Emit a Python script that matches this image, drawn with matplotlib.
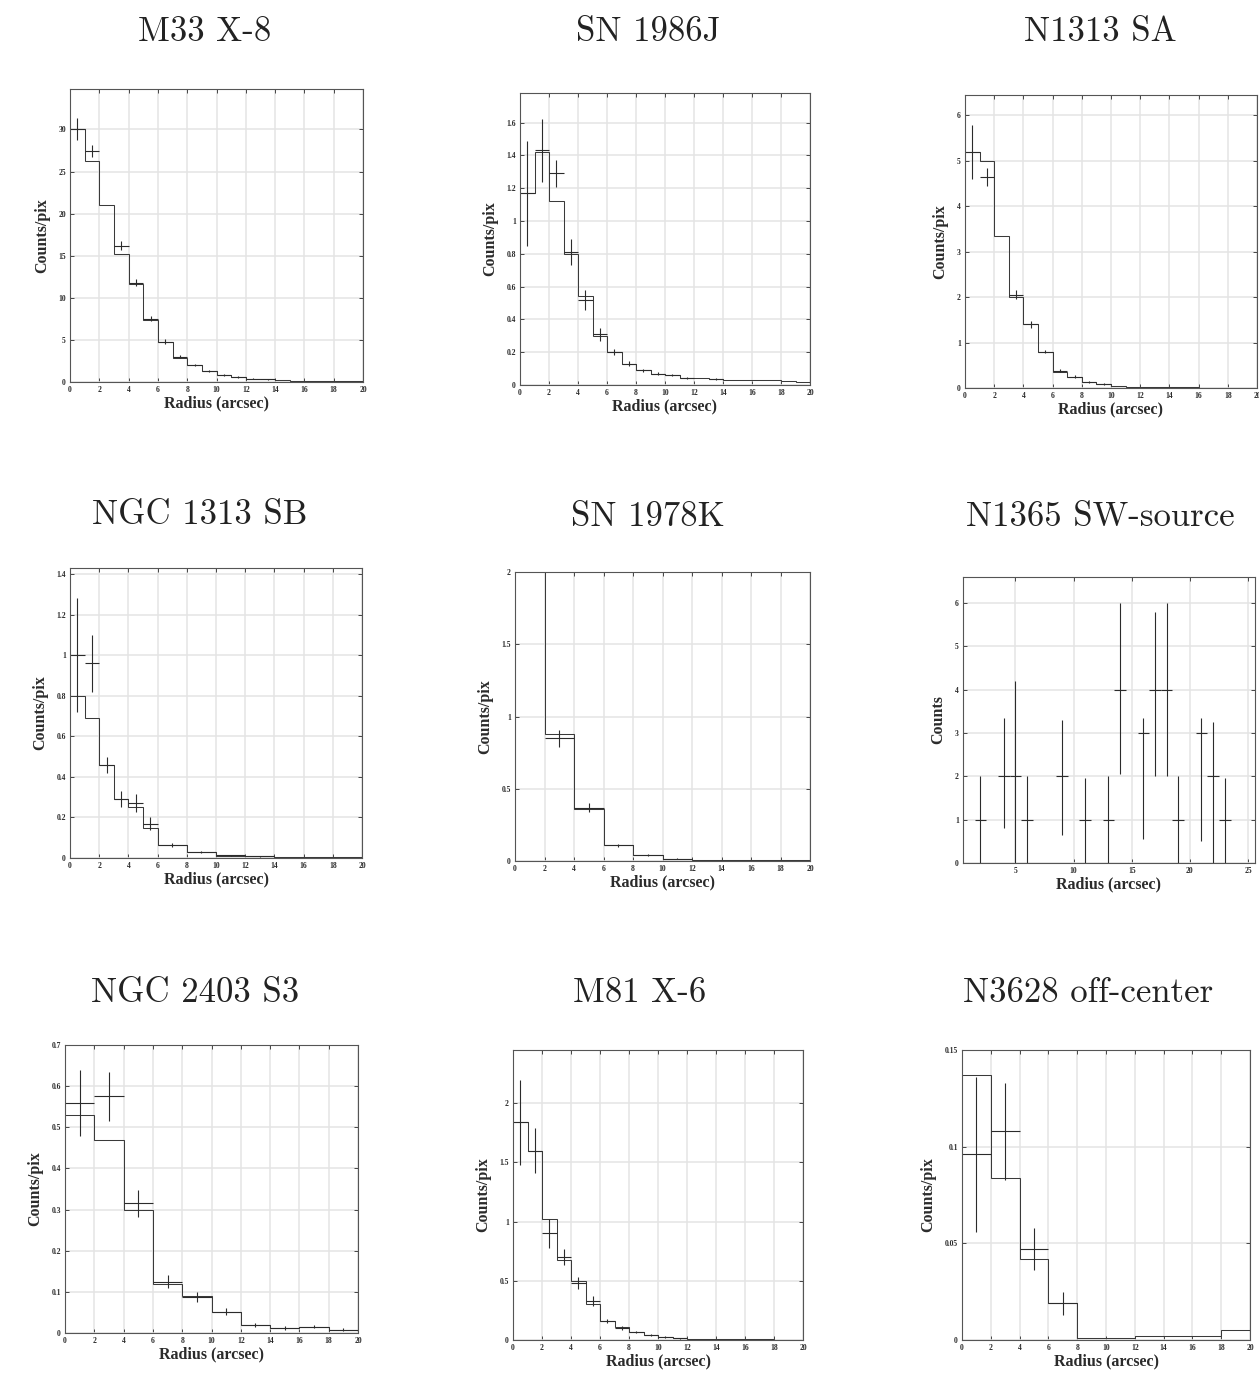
import matplotlib
matplotlib.use("Agg")
import matplotlib.pyplot as plt
import numpy as np
from matplotlib.ticker import MultipleLocator, FormatStrFormatter

W, H = 1259, 1376

# ---- M33 X-8 ----
m33_edges = np.arange(0, 21, 1)
m33_model = [30.0, 26.3, 21.0, 15.2, 11.6, 7.4, 4.7, 2.9, 2.0, 1.3,
             0.8, 0.55, 0.4, 0.3, 0.2, 0.15, 0.12, 0.1, 0.08, 0.06]
m33_r = [0.5, 1.5, 3.5, 4.5, 5.5, 6.5, 7.5, 8.5, 9.5, 10.5, 11.5, 12.5, 13.5]
m33_y = [30.0, 27.4, 16.2, 11.8, 7.5, 4.8, 3.0, 2.0, 1.3, 0.85, 0.6, 0.4, 0.3]
m33_e = [1.3, 0.7, 0.5, 0.4, 0.3, 0.25, 0.2, 0.15, 0.12, 0.1, 0.08, 0.06, 0.05]

# ---- SN 1986J ----
sn86_edges = np.arange(0, 21, 1)
sn86_model = [1.17, 1.42, 1.12, 0.8, 0.54, 0.3, 0.2, 0.13, 0.09, 0.07,
              0.06, 0.045, 0.04, 0.035, 0.03, 0.03, 0.03, 0.03, 0.025, 0.02]
sn86_r = [0.5, 1.5, 2.5, 3.5, 4.5, 5.5, 6.5, 7.5, 8.5, 9.5, 10.5, 11.5, 13.5]
sn86_y = [1.17, 1.43, 1.29, 0.81, 0.52, 0.31, 0.2, 0.13, 0.09, 0.07, 0.06, 0.04, 0.035]
sn86_e = [0.32, 0.19, 0.08, 0.08, 0.06, 0.04, 0.02, 0.015, 0.01, 0.01, 0.008, 0.006, 0.005]

# ---- N1313 SA ----
sa_edges = np.arange(0, 21, 1)
sa_model = [5.2, 5.0, 3.35, 2.0, 1.4, 0.8, 0.35, 0.25, 0.13, 0.08,
            0.04, 0.03, 0.02, 0.02, 0.015, 0.015, 0.01, 0.01, 0.01, 0.01]
sa_r = [0.5, 1.5, 3.5, 4.5, 5.5, 6.5, 7.5, 8.5, 9.5]
sa_y = [5.2, 4.65, 2.05, 1.4, 0.8, 0.38, 0.25, 0.13, 0.09]
sa_e = [0.6, 0.2, 0.1, 0.07, 0.04, 0.03, 0.03, 0.02, 0.015]

# ---- NGC 1313 SB ----
sb_edges = [0, 1, 2, 3, 4, 5, 6, 8, 10, 12, 14, 16, 18, 20]
sb_model = [0.8, 0.69, 0.46, 0.29, 0.25, 0.15, 0.065, 0.03, 0.012, 0.008, 0.006, 0.005, 0.004]
sb_r = [0.5, 1.5, 2.5, 3.5, 4.5, 5.5, 7, 9, 11, 13]
sb_y = [1.0, 0.96, 0.46, 0.29, 0.27, 0.17, 0.065, 0.03, 0.013, 0.008]
sb_e = [0.28, 0.14, 0.04, 0.04, 0.045, 0.03, 0.01, 0.006, 0.004, 0.003]
sb_xe = [0.5, 0.5, 0.5, 0.5, 0.5, 0.5, 1, 1, 1, 1]

# ---- SN 1978K ----
sn78_edges = np.arange(0, 21, 2)
sn78_model = [2.6, 0.88, 0.36, 0.11, 0.04, 0.015, 0.01, 0.008, 0.006, 0.005]
sn78_r = [3, 5, 7, 9, 11]
sn78_y = [0.85, 0.37, 0.11, 0.04, 0.015]
sn78_e = [0.06, 0.03, 0.01, 0.006, 0.004]

# ---- N1365 SW-source (counts) ----
sw_r = [2, 4, 5, 6, 9, 11, 13, 14, 16, 17, 18, 19, 21, 22, 23]
sw_y = [1, 2, 2, 1, 2, 1, 1, 4, 3, 4, 4, 1, 3, 2, 1]
sw_lo = [1, 1.2, 2, 1, 1.35, 1, 1, 1.94, 2.45, 2, 2, 1, 2.5, 2, 1]
sw_hi = [1, 1.35, 2.2, 1, 1.3, 0.95, 1, 2.0, 0.35, 1.8, 2.0, 1, 0.35, 1.25, 0.95]

# ---- NGC 2403 S3 ----
s3_edges = np.arange(0, 21, 2)
s3_model = [0.53, 0.47, 0.3, 0.12, 0.09, 0.052, 0.02, 0.012, 0.015, 0.008]
s3_r = [1, 3, 5, 7, 9, 11, 13, 15, 17, 19]
s3_y = [0.56, 0.575, 0.315, 0.125, 0.088, 0.052, 0.02, 0.012, 0.015, 0.008]
s3_e = [0.08, 0.06, 0.032, 0.015, 0.012, 0.008, 0.005, 0.004, 0.004, 0.003]

# ---- M81 X-6 ----
x6_edges = np.arange(0, 21, 1)
x6_model = [1.84, 1.6, 1.02, 0.68, 0.5, 0.3, 0.16, 0.11, 0.07, 0.045,
            0.025, 0.015, 0.01, 0.008, 0.007, 0.006, 0.005, 0.005, 0.004, 0.004]
x6_r = [0.5, 1.5, 2.5, 3.5, 4.5, 5.5, 6.5, 7.5, 8.5, 9.5, 10.5, 11.5]
x6_y = [1.84, 1.6, 0.9, 0.7, 0.48, 0.33, 0.16, 0.1, 0.07, 0.045, 0.025, 0.015]
x6_e = [0.36, 0.19, 0.12, 0.07, 0.05, 0.04, 0.02, 0.015, 0.01, 0.008, 0.006, 0.005]

# ---- N3628 off-center ----
oc_edges = [0, 2, 4, 6, 8, 12, 16, 18, 20]
oc_model = [0.137, 0.084, 0.042, 0.019, 0.001, 0.002, 0.002, 0.005]
oc_r = [1, 3, 5, 7]
oc_y = [0.096, 0.108, 0.047, 0.019]
oc_e = [0.04, 0.025, 0.011, 0.006]

ink = '#2b2b2b'
serif = ['Liberation Serif', 'DejaVu Serif']
title_font = ['cmr10', 'DejaVu Serif']

fig = plt.figure(figsize=(W / 100, H / 100), dpi=100)


def make_ax(box):
    x0, y0, x1, y1 = box
    return fig.add_axes([x0 / W, 1 - y1 / H, (x1 - x0) / W, (y1 - y0) / H])


def style(ax, xlim, ylim, xstep, ystep, ylabel, fmt):
    ax.set_xlim(*xlim)
    ax.set_ylim(*ylim)
    ax.xaxis.set_major_locator(MultipleLocator(xstep))
    ax.yaxis.set_major_locator(MultipleLocator(ystep))
    ax.yaxis.set_major_formatter(FormatStrFormatter(fmt))
    ax.tick_params(direction='in', length=3, width=0.6, labelsize=5.5,
                   top=True, right=True, colors=ink, pad=3)
    for lab in ax.get_xticklabels() + ax.get_yticklabels():
        lab.set_family(serif)
        lab.set_fontweight('bold')
    for sp in ax.spines.values():
        sp.set_color('#555555')
        sp.set_linewidth(0.8)
    ax.grid(True, color='#e4e4e4', linewidth=1.1)
    ax.set_axisbelow(True)
    ax.set_xlabel('Radius (arcsec)', family=serif, fontweight='bold',
                  fontsize=11.5, color=ink, labelpad=1)
    ax.set_ylabel(ylabel, family=serif, fontweight='bold', fontsize=11.5,
                  color=ink, labelpad=6)


def profile(ax, edges, model, r, y, e, xe):
    ax.stairs(model, edges, color='#3a3a3a', linewidth=0.75, baseline=None)
    ax.errorbar(r, y, yerr=e, xerr=xe, fmt='none', ecolor=ink,
                elinewidth=0.8, capsize=0)


# row 1
ax1 = make_ax((70, 89, 363, 382))
profile(ax1, m33_edges, m33_model, m33_r, m33_y, m33_e, 0.5)
style(ax1, (0, 20), (0, 34.8), 2, 5, 'Counts/pix', '%g')

ax2 = make_ax((520, 93, 810, 385))
profile(ax2, sn86_edges, sn86_model, sn86_r, sn86_y, sn86_e, 0.5)
style(ax2, (0, 20), (0, 1.78), 2, 0.2, 'Counts/pix', '%g')

ax3 = make_ax((965, 95, 1257, 388))
profile(ax3, sa_edges, sa_model, sa_r, sa_y, sa_e, 0.5)
style(ax3, (0, 20), (0, 6.45), 2, 1, 'Counts/pix', '%g')

# row 2
ax4 = make_ax((70, 568, 362, 858))
profile(ax4, sb_edges, sb_model, sb_r, sb_y, sb_e, sb_xe)
style(ax4, (0, 20), (0, 1.43), 2, 0.2, 'Counts/pix', '%g')

ax5 = make_ax((515, 572, 810, 861))
profile(ax5, sn78_edges, sn78_model, sn78_r, sn78_y, sn78_e, 1)
style(ax5, (0, 20), (0, 2.0), 2, 0.5, 'Counts/pix', '%g')

ax6 = make_ax((963, 577, 1255, 863))
ax6.errorbar(sw_r, sw_y, yerr=[sw_lo, sw_hi], xerr=0.5, fmt='none',
             ecolor=ink, elinewidth=0.8, capsize=0)
style(ax6, (0.5, 25.6), (0, 6.6), 5, 1, 'Counts', '%g')

# row 3
ax7 = make_ax((65, 1045, 358, 1333))
profile(ax7, s3_edges, s3_model, s3_r, s3_y, s3_e, 1)
style(ax7, (0, 20), (0, 0.7), 2, 0.1, 'Counts/pix', '%g')

ax8 = make_ax((513, 1050, 803, 1340))
profile(ax8, x6_edges, x6_model, x6_r, x6_y, x6_e, 0.5)
style(ax8, (0, 20), (0, 2.45), 2, 0.5, 'Counts/pix', '%g')

ax9 = make_ax((962, 1050, 1250, 1340))
profile(ax9, oc_edges, oc_model, oc_r, oc_y, oc_e, 1)
style(ax9, (0, 20), (0, 0.15), 2, 0.05, 'Counts/pix', '%g')

titles = ['M33 X-8', 'SN 1986J', 'N1313 SA',
          'NGC 1313 SB', 'SN 1978K', 'N1365 SW-source',
          'NGC 2403 S3', 'M81 X-6', 'N3628 off-center']
title_x = [205, 648, 1100, 200, 648, 1100, 195, 640, 1088]
title_y = [32, 32, 32, 515, 517, 517, 993, 993, 993]
for t, tx, ty in zip(titles, title_x, title_y):
    fig.text(tx / W, 1 - ty / H, t, family=title_font, fontsize=25,
             ha='center', va='center', color='#222222')

fig.savefig('out.png', dpi=100)
